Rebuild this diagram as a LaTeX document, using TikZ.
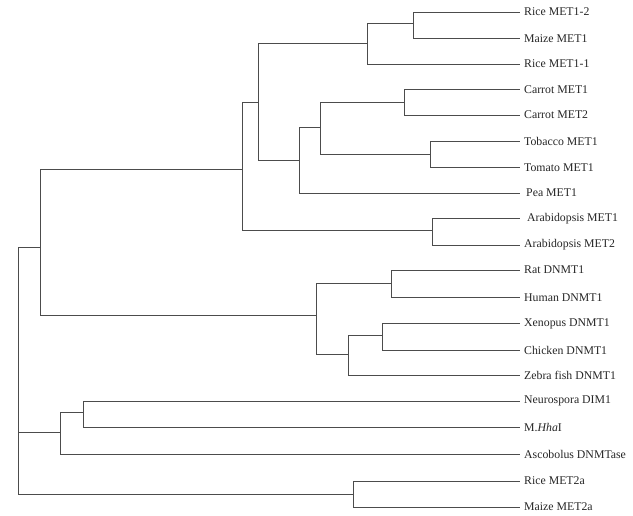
\documentclass[tikz,border=0pt]{standalone}
\usepackage{fontspec}
\setmainfont{Liberation Serif}
\begin{document}
\begin{tikzpicture}[x=1pt,y=-1pt,
  br/.style={draw=black!70,line width=0.9pt},
  leaf/.style={anchor=west,inner xsep=4pt,inner ysep=0pt,font=\fontsize{11.8}{12}\selectfont,text=black!85}]
\useasboundingbox (0,0) rectangle (633,516);
% leaves
\node[leaf] (l1) at (520,12) {Rice MET1-2};
\node[leaf] (l2) at (520,38.3) {Maize MET1};
\node[leaf] (l3) at (520,64) {Rice MET1-1};
\node[leaf] (l4) at (520,89.3) {Carrot MET1};
\node[leaf] (l5) at (520,115) {Carrot MET2};
\node[leaf] (l6) at (520,141) {Tobacco MET1};
\node[leaf] (l7) at (520,167.3) {Tomato MET1};
\node[leaf,inner xsep=6pt] (l8) at (520,193) {Pea MET1};
\node[leaf,inner xsep=7pt] (l9) at (520,218.7) {Arabidopsis MET1};
\node[leaf] (l10) at (520,245) {Arabidopsis MET2};
\node[leaf] (l11) at (520,270) {Rat DNMT1};
\node[leaf] (l12) at (520,297.3) {Human DNMT1};
\node[leaf] (l13) at (520,323.7) {Xenopus DNMT1};
\node[leaf] (l14) at (520,350) {Chicken DNMT1};
\node[leaf] (l15) at (520,375.5) {Zebra fish DNMT1};
\node[leaf] (l16) at (520,401) {Neurospora DIM1};
\node[leaf] (l17) at (520,427.3) {M.\textit{Hha}I};
\node[leaf] (l18) at (520,454.5) {Ascobolus DNMTase};
\node[leaf] (l19) at (520,481) {Rice MET2a};
\node[leaf] (l20) at (520,507) {Maize MET2a};
% internal nodes
\coordinate (n1) at (413.7,23.7);
\coordinate (n2) at (367.3,43.7);
\coordinate (n3) at (404,102.3);
\coordinate (n4) at (430,154.3);
\coordinate (n5) at (320.7,127.3);
\coordinate (n6) at (299,160.7);
\coordinate (n7) at (258.7,102.3);
\coordinate (n8) at (432.3,230.7);
\coordinate (n9) at (242.7,169);
\coordinate (n10) at (391,283.3);
\coordinate (n11) at (382.3,335.3);
\coordinate (n12) at (348.3,354);
\coordinate (n13) at (316.7,315);
\coordinate (n14) at (40.3,247);
\coordinate (n15) at (83,412);
\coordinate (n16) at (60,432);
\coordinate (n17) at (353.3,494);
\coordinate (root) at (18.3,432);
% branches
\draw[br] (n1) |- (l1.west);
\draw[br] (n1) |- (l2.west);
\draw[br] (n2) |- (n1);
\draw[br] (n2) |- (l3.west);
\draw[br] (n3) |- (l4.west);
\draw[br] (n3) |- (l5.west);
\draw[br] (n4) |- (l6.west);
\draw[br] (n4) |- (l7.west);
\draw[br] (n5) |- (n3);
\draw[br] (n5) |- (n4);
\draw[br] (n6) |- (n5);
\draw[br] (n6) |- (l8.west);
\draw[br] (n7) |- (n2);
\draw[br] (n7) |- (n6);
\draw[br] (n8) |- (l9.west);
\draw[br] (n8) |- (l10.west);
\draw[br] (n9) |- (n7);
\draw[br] (n9) |- (n8);
\draw[br] (n10) |- (l11.west);
\draw[br] (n10) |- (l12.west);
\draw[br] (n11) |- (l13.west);
\draw[br] (n11) |- (l14.west);
\draw[br] (n12) |- (n11);
\draw[br] (n12) |- (l15.west);
\draw[br] (n13) |- (n10);
\draw[br] (n13) |- (n12);
\draw[br] (n14) |- (n9);
\draw[br] (n14) |- (n13);
\draw[br] (n15) |- (l16.west);
\draw[br] (n15) |- (l17.west);
\draw[br] (n16) |- (n15);
\draw[br] (n16) |- (l18.west);
\draw[br] (n17) |- (l19.west);
\draw[br] (n17) |- (l20.west);
\draw[br] (root) |- (n14);
\draw[br] (root) -- (n16);
\draw[br] (root) |- (n17);
\end{tikzpicture}
\end{document}
